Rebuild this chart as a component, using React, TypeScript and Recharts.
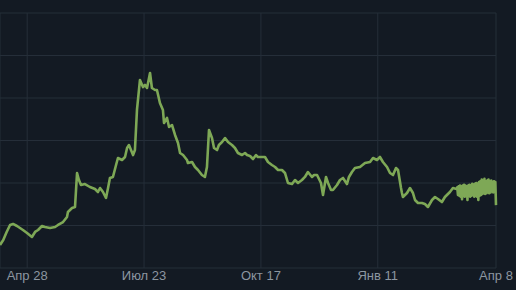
import React from "react";
import { LineChart, Line, XAxis, YAxis, CartesianGrid } from "recharts";

const tickDays = [20, 106, 192, 278, 365];
const tickLabels = ["Апр 28", "Июл 23", "Окт 17", "Янв 11", "Апр 8"];
const priceTicks = [0, 5, 10, 15, 20, 25, 30];

const days = [
  0, 2.4, 4.9, 7.4, 9.6, 12.5, 14.7, 16.9, 19.9, 23.5, 25.8, 28.0, 30.9, 33.1, 36.8, 40.5, 42.7, 46.4, 49.3, 50.0,
  53.0, 55.2, 56.7, 58.1, 59.6, 62.5, 66.2, 69.9, 72.1, 73.6, 75.8, 78.0, 79.5, 80.9, 83.1, 85.4, 86.8, 89.8, 92.0,
  93.5, 94.9, 97.9, 99.3, 100.8, 103.0, 105.2, 106.7, 108.2, 110.4, 111.8, 114.1, 115.5, 117.7, 119.9, 120.7, 122.9,
  124.4, 126.6, 128.8, 131.0, 132.5, 134.7, 137.6, 138.3, 141.3, 143.5, 145.7, 148.6, 150.8, 152.3, 153.8, 156.0,
  157.5, 159.7, 161.1, 163.4, 165.6, 167.8, 170.7, 172.9, 175.1, 178.1, 180.3, 181.8, 184.0, 186.2, 188.4, 189.8,
  192.8, 195.0, 197.2, 200.1, 202.4, 204.6, 207.5, 209.7, 211.9, 214.9, 217.1, 219.3, 222.2, 224.4, 226.6, 229.6,
  231.1, 233.3, 236.2, 237.7, 239.9, 241.4, 243.6, 245.0, 248.0, 250.2, 252.4, 255.3, 256.8, 259.0, 261.2, 264.9,
  268.6, 272.3, 274.5, 277.4, 279.6, 281.8, 284.8, 287.0, 289.2, 291.4, 292.9, 295.1, 295.8, 296.5, 299.5, 301.7,
  303.9, 305.4, 307.6, 310.5, 312.7, 314.9, 317.9, 320.1, 322.3, 325.2, 327.4, 331.1, 333.3, 336.0,
  336.5, 337, 337.5, 338, 338.5, 339, 339.5, 340, 340.5, 341, 341.5, 342, 342.5, 343, 343.5, 344, 344.5, 345,
  345.5, 346, 346.5, 347, 347.5, 348, 348.5, 349, 349.5, 350, 350.5, 351, 351.5, 352, 352.5, 353, 353.5, 354,
  354.5, 355, 355.5, 356, 356.5, 357, 357.5, 358, 358.5, 359, 359.5, 360, 360.5, 361, 361.5, 362, 362.5, 363,
  363.5, 364, 364.5, 365,
];

const prices = [
  2.71, 3.29, 4.24, 5.06, 5.18, 4.94, 4.71, 4.47, 4.12, 3.65, 4.24, 4.47, 4.94, 4.82, 4.71, 4.82, 5.06, 5.41, 6.0, 6.59,
  7.06, 7.18, 11.18, 10.35, 9.76, 9.88, 9.53, 9.29, 8.94, 9.41, 8.94, 8.24, 9.41, 10.59, 10.71, 12.12, 12.94, 12.71, 13.06,
  14.12, 14.47, 13.29, 13.88, 18.59, 22.12, 21.29, 21.53, 21.18, 22.94, 21.18, 20.94, 20.94, 19.41, 18.59, 17.06, 17.65,
  16.59, 16.82, 15.65, 14.71, 13.53, 13.29, 12.71, 12.35, 12.47, 11.88, 11.53, 10.94, 10.71, 11.88, 16.24, 15.29,
  14.12, 13.88, 14.47, 14.82, 15.29, 14.82, 14.47, 14.12, 13.53, 13.29, 13.53, 13.29, 13.18, 12.82, 13.29, 13.06,
  13.06, 13.06, 12.47, 12.12, 11.88, 11.53, 11.53, 11.18, 10.0, 9.88, 10.35, 10.0, 10.35, 10.71, 11.29, 10.71,
  10.94, 10.94, 10.0, 8.59, 10.71, 10.0, 9.18, 9.18, 9.76, 10.35, 10.59, 9.88, 10.71, 11.29, 11.76, 11.88,
  12.35, 12.47, 12.94, 12.71, 13.06, 12.47, 11.88, 11.18, 10.94, 11.76, 11.53, 9.41, 8.82, 8.35, 8.82, 9.41,
  8.82, 8.0, 7.65, 7.65, 7.53, 7.18, 8.0, 8.35, 8.12, 7.76, 8.35, 8.94, 9.41, 9.3,
  9.5, 8.6, 9.6, 8.5, 9.7, 8.4, 9.6, 8.1, 9.7, 8.5, 9.8, 8.4, 9.7, 8.5, 9.6, 8.0, 9.7, 8.5,
  9.8, 8.4, 9.7, 8.5, 9.9, 8.6, 9.8, 8.4, 9.9, 8.5, 10.0, 8.4, 9.9, 8.0, 10.1, 8.5, 10.2, 8.6,
  10.4, 8.7, 10.3, 8.8, 10.5, 8.7, 10.2, 8.8, 10.3, 8.9, 10.4, 8.8, 10.2, 8.9, 10.3, 9.0, 10.1, 8.9,
  10.2, 9.0, 10.1, 7.4,
];

const data = days.map((d, i) => ({ day: d, price: prices[i] }));

const labelFor = (v: number) => {
  const i = tickDays.indexOf(v);
  return i >= 0 ? tickLabels[i] : "";
};

export default function App() {
  return (
    <div
      style={{
        position: "absolute",
        left: 0,
        top: 0,
        width: 516,
        height: 290,
        background: "#131a23",
        overflow: "hidden",
      }}
    >
      <LineChart
        width={516}
        height={290}
        data={data}
        margin={{ top: 13, right: 20, left: 0, bottom: 0 }}
      >
        <CartesianGrid stroke="#252e39" strokeWidth={1} />
        <XAxis
          dataKey="day"
          type="number"
          domain={[0, 365]}
          ticks={tickDays}
          interval={0}
          tickFormatter={labelFor}
          axisLine={false}
          tickLine={false}
          tickSize={3}
          tickMargin={0}
          height={22}
          tick={{ fill: "#8c96a0", fontSize: 13, fontFamily: "Liberation Sans, Arial, sans-serif" }}
        />
        <YAxis hide domain={[0, 30]} ticks={priceTicks} width={0} />
        <Line
          type="linear"
          dataKey="price"
          stroke="#7ea856"
          strokeWidth={2.6}
          strokeLinejoin="round"
          dot={false}
          isAnimationActive={false}
        />
      </LineChart>
    </div>
  );
}
